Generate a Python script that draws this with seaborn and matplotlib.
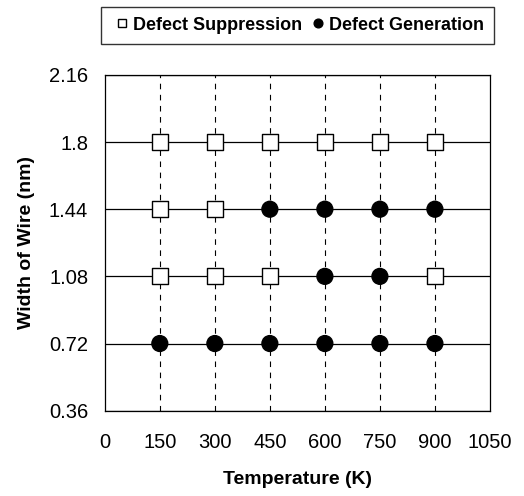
import pandas as pd
import matplotlib
matplotlib.use("Agg")
import matplotlib.pyplot as plt
import seaborn as sns

# data
temps = [150, 300, 450, 600, 750, 900]
width_180 = ["S", "S", "S", "S", "S", "S"]
width_144 = ["S", "S", "G", "G", "G", "G"]
width_108 = ["S", "S", "S", "G", "G", "S"]
width_072 = ["G", "G", "G", "G", "G", "G"]
widths = [1.8, 1.44, 1.08, 0.72]
xticks = [0, 150, 300, 450, 600, 750, 900, 1050]
yticks = [0.36, 0.72, 1.08, 1.44, 1.8, 2.16]

names = {"S": "Defect Suppression", "G": "Defect Generation"}

rows = []
for w, kinds in zip(widths, [width_180, width_144, width_108, width_072]):
    for t, k in zip(temps, kinds):
        rows.append({"temp": t, "width": w, "kind": names[k]})
df = pd.DataFrame(rows)

sns.set_style("ticks")
plt.rcParams["font.family"] = ["Liberation Sans", "DejaVu Sans"]
plt.rcParams["text.color"] = "black"
plt.rcParams["xtick.color"] = "black"
plt.rcParams["ytick.color"] = "black"
plt.rcParams["axes.labelcolor"] = "black"

fig = plt.figure(figsize=(5.24, 4.96), dpi=100)
ax = fig.add_axes([0.2, 0.172, 0.735, 0.677])

# grid: solid horizontal at y ticks, dashed vertical at temps
for y in yticks:
    ax.axhline(y, color="black", lw=0.9, zorder=1)
for t in temps:
    ax.axvline(t, color="black", lw=0.8, ls=(0, (5, 5)), zorder=1)

sns.scatterplot(data=df, x="temp", y="width", hue="kind", style="kind",
                hue_order=list(names.values()), style_order=list(names.values()),
                palette={"Defect Suppression": "white", "Defect Generation": "black"},
                markers={"Defect Suppression": "s", "Defect Generation": "o"},
                s=130, edgecolor="black", linewidth=1.0, zorder=3, ax=ax)

ax.set_xlim(0, 1050)
ax.set_ylim(0.36, 2.16)
ax.set_xticks(xticks)
ax.set_yticks(yticks)
ax.set_yticklabels(["0.36", "0.72", "1.08", "1.44", "1.8", "2.16"])
ax.tick_params(length=0, labelsize=14.5, pad=12)
ax.tick_params(axis="x", pad=16)
for sp in ax.spines.values():
    sp.set_color("black")
    sp.set_linewidth(0.9)

ax.set_xlabel("Temperature (K)", fontsize=14, fontweight="bold", labelpad=14)
ax.set_ylabel("Width of Wire (nm)", fontsize=14, fontweight="bold", labelpad=10)

ax.legend(loc="upper center", bbox_to_anchor=(0.5, 1.23), ncol=2,
          frameon=True, fancybox=False, edgecolor="black",
          prop={"weight": "bold", "size": 13}, handletextpad=0.0,
          columnspacing=0.3, borderpad=0.55, markerscale=0.55,
          handlelength=1.2)

fig.savefig("out.png", dpi=100)
